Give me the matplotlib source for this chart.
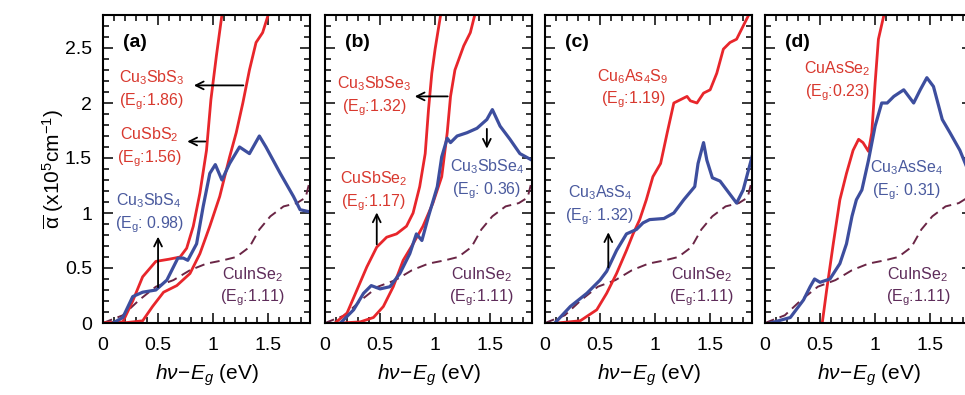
import matplotlib
matplotlib.use("Agg")
import matplotlib.pyplot as plt
from matplotlib.ticker import MultipleLocator, FormatStrFormatter

plt.rcParams['font.family'] = ['Liberation Sans', 'DejaVu Sans']
plt.rcParams['mathtext.fontset'] = 'custom'
plt.rcParams['mathtext.rm'] = 'Liberation Sans'
plt.rcParams['mathtext.it'] = 'Liberation Sans:italic'
plt.rcParams['mathtext.default'] = 'regular'

RED = '#e8262b'
BLUE = '#3d4e9e'
DASH = '#6a2545'
RED_TXT = '#d8382e'
BLUE_TXT = '#4a5a9e'
PURP_TXT = '#5e2c5a'

# reference CuInSe2 (dashed, same in every panel)
cis_x = [0, 0.18, 0.33, 0.48, 0.64, 0.79, 0.94, 1.09, 1.21, 1.33, 1.42, 1.52, 1.64, 1.76, 1.84, 1.88]
cis_y = [0, 0.07, 0.21, 0.33, 0.39, 0.48, 0.54, 0.57, 0.60, 0.69, 0.85, 0.97, 1.06, 1.09, 1.14, 1.30]

# (a)
a_s3_x = [0, 0.18, 0.36, 0.45, 0.55, 0.67, 0.79, 0.88, 0.97, 1.06, 1.15, 1.21, 1.27, 1.33, 1.39, 1.45, 1.50]
a_s3_y = [0, 0.0, 0.02, 0.15, 0.28, 0.34, 0.45, 0.63, 0.88, 1.15, 1.51, 1.73, 2.00, 2.30, 2.55, 2.64, 2.80]
a_s2_x = [0, 0.18, 0.27, 0.36, 0.48, 0.60, 0.70, 0.76, 0.82, 0.88, 0.94, 0.98, 1.03, 1.08]
a_s2_y = [0, 0.01, 0.20, 0.42, 0.56, 0.58, 0.60, 0.68, 0.88, 1.18, 1.57, 2.03, 2.43, 2.80]
a_s4_x = [0.09, 0.18, 0.27, 0.36, 0.48, 0.58, 0.68, 0.73, 0.77, 0.85, 0.91, 0.97, 1.02, 1.08,
          1.15, 1.24, 1.33, 1.42, 1.48, 1.61, 1.73, 1.79, 1.88]
a_s4_y = [0, 0.05, 0.24, 0.28, 0.30, 0.39, 0.59, 0.59, 0.57, 0.72, 1.06, 1.36, 1.44, 1.30,
          1.45, 1.60, 1.54, 1.70, 1.60, 1.36, 1.15, 1.03, 1.01]

# (b)
b_se3_x = [0.14, 0.32, 0.44, 0.53, 0.62, 0.71, 0.80, 0.89, 0.98, 1.06, 1.11, 1.14, 1.18, 1.26, 1.32, 1.36]
b_se3_y = [0, 0.01, 0.05, 0.15, 0.33, 0.57, 0.72, 0.88, 1.09, 1.33, 1.73, 2.06, 2.30, 2.52, 2.64, 2.80]
b_se2_x = [0.09, 0.20, 0.29, 0.38, 0.47, 0.56, 0.65, 0.74, 0.80, 0.86, 0.91, 0.94, 0.97, 1.00, 1.05]
b_se2_y = [0, 0.09, 0.30, 0.51, 0.69, 0.78, 0.81, 0.88, 1.00, 1.24, 1.54, 1.94, 2.27, 2.49, 2.80]
b_se4_x = [0.14, 0.26, 0.35, 0.42, 0.50, 0.59, 0.68, 0.77, 0.83, 0.88, 0.94, 1.02, 1.06, 1.11,
           1.14, 1.20, 1.29, 1.38, 1.47, 1.52, 1.59, 1.68, 1.77, 1.88]
b_se4_y = [0, 0.12, 0.27, 0.34, 0.31, 0.33, 0.45, 0.63, 0.81, 0.75, 0.97, 1.24, 1.51, 1.68,
           1.64, 1.70, 1.73, 1.77, 1.85, 1.94, 1.79, 1.67, 1.54, 1.48]

# (c)
c_s9_x = [0.11, 0.32, 0.47, 0.56, 0.65, 0.74, 0.80, 0.86, 0.92, 0.98, 1.05, 1.11, 1.17, 1.23,
          1.29, 1.32, 1.38, 1.44, 1.50, 1.56, 1.62, 1.68, 1.74, 1.80, 1.86]
c_s9_y = [0, 0.02, 0.12, 0.27, 0.45, 0.66, 0.81, 0.94, 1.12, 1.33, 1.45, 1.73, 2.00, 2.03,
          2.06, 2.02, 2.00, 2.09, 2.12, 2.27, 2.49, 2.55, 2.58, 2.70, 2.82]
c_s4_x = [0.09, 0.23, 0.38, 0.50, 0.56, 0.65, 0.74, 0.83, 0.89, 0.95, 1.08, 1.17, 1.26, 1.36,
          1.39, 1.44, 1.47, 1.52, 1.59, 1.65, 1.74, 1.80, 1.88]
c_s4_y = [0, 0.15, 0.27, 0.39, 0.47, 0.66, 0.81, 0.85, 0.91, 0.94, 0.95, 1.00, 1.12, 1.24,
          1.45, 1.64, 1.48, 1.32, 1.29, 1.21, 1.09, 1.21, 1.51]

# (d)
d_se2_x = [0.52, 0.56, 0.62, 0.68, 0.74, 0.80, 0.85, 0.89, 0.94, 0.97, 1.00, 1.03, 1.08]
d_se2_y = [0, 0.30, 0.72, 1.12, 1.36, 1.57, 1.67, 1.64, 1.56, 1.73, 2.18, 2.58, 2.80]
d_se4_x = [0.05, 0.23, 0.35, 0.41, 0.45, 0.50, 0.59, 0.68, 0.74, 0.79, 0.83, 0.88, 0.94, 1.00,
           1.06, 1.11, 1.17, 1.26, 1.35, 1.41, 1.47, 1.53, 1.61, 1.68, 1.77, 1.88]
d_se4_y = [0, 0.05, 0.21, 0.33, 0.40, 0.37, 0.40, 0.54, 0.72, 0.97, 1.12, 1.21, 1.48, 1.79,
           2.00, 2.00, 2.06, 2.12, 2.00, 2.12, 2.23, 2.15, 1.85, 1.73, 1.57, 1.30]

panels = [
    ('(a)', [(a_s2_x, a_s2_y, RED), (a_s3_x, a_s3_y, RED), (a_s4_x, a_s4_y, BLUE)],
     [('Cu$_3$SbS$_3$\n(E$_g$:1.86)', 0.44, 2.12, RED_TXT),
      ('CuSbS$_2$\n(E$_g$:1.56)', 0.42, 1.60, RED_TXT),
      ('Cu$_3$SbS$_4$\n(E$_g$: 0.98)', 0.42, 1.00, BLUE_TXT)],
     [((1.30, 2.16), (0.80, 2.16)), ((0.955, 1.65), (0.74, 1.65)), ((0.50, 0.30), (0.50, 0.81))]),
    ('(b)', [(b_se2_x, b_se2_y, RED), (b_se3_x, b_se3_y, RED), (b_se4_x, b_se4_y, BLUE)],
     [('Cu$_3$SbSe$_3$\n(E$_g$:1.32)', 0.445, 2.06, RED_TXT),
      ('CuSbSe$_2$\n(E$_g$:1.17)', 0.44, 1.20, RED_TXT),
      ('Cu$_3$SbSe$_4$\n(E$_g$: 0.36)', 1.47, 1.31, BLUE_TXT)],
     [((1.14, 2.06), (0.79, 2.06)), ((0.47, 0.69), (0.47, 1.03)), ((1.47, 1.79), (1.47, 1.56))]),
    ('(c)', [(c_s9_x, c_s9_y, RED), (c_s4_x, c_s4_y, BLUE)],
     [('Cu$_6$As$_4$S$_9$\n(E$_g$:1.19)', 0.80, 2.13, RED_TXT),
      ('Cu$_3$AsS$_4$\n(E$_g$: 1.32)', 0.50, 1.07, BLUE_TXT)],
     [((0.575, 0.48), (0.575, 0.85))]),
    ('(d)', [(d_se2_x, d_se2_y, RED), (d_se4_x, d_se4_y, BLUE)],
     [('CuAsSe$_2$\n(E$_g$:0.23)', 0.66, 2.20, RED_TXT),
      ('Cu$_3$AsSe$_4$\n(E$_g$: 0.31)', 1.29, 1.30, BLUE_TXT)],
     []),
]
cis_label_x = [1.355, 1.42, 1.42, 1.39]

fig = plt.figure(figsize=(9.65, 3.95), dpi=100)
lefts = [103, 325, 545, 765]
for i, (tag, curves, labels, arrows) in enumerate(panels):
    ax = fig.add_axes([lefts[i] / 965, 1 - 323 / 395, 207 / 965, 308 / 395])
    ax.plot(cis_x, cis_y, color=DASH, lw=1.4, ls=(0, (5, 3)))
    for xs, ys, c in curves:
        ax.plot(xs, ys, color=c, lw=2.3 if c == BLUE else 2.0)
    for txt, x, y, c in labels:
        ax.text(x, y, txt, color=c, fontsize=11.5, ha='center', va='center',
                multialignment='center', linespacing=1.3)
    ax.text(cis_label_x[i], 0.33, 'CuInSe$_2$\n(E$_g$:1.11)', color=PURP_TXT, fontsize=11.5,
            ha='center', va='center', multialignment='center', linespacing=1.3)
    for (x0, y0), (x1, y1) in arrows:
        ax.annotate('', xy=(x1, y1), xytext=(x0, y0),
                    arrowprops=dict(arrowstyle='->', color='black', lw=1.3, mutation_scale=14))
    ax.text(0.18, 2.55, tag, fontsize=14, fontweight='bold', ha='left', va='center')

    ax.set_xlim(0, 1.88)
    ax.set_ylim(0, 2.8)
    ax.xaxis.set_major_locator(MultipleLocator(0.5))
    ax.xaxis.set_minor_locator(MultipleLocator(0.1))
    ax.yaxis.set_major_locator(MultipleLocator(0.5))
    ax.yaxis.set_minor_locator(MultipleLocator(0.1))
    ax.xaxis.set_major_formatter(FormatStrFormatter('%g'))
    ax.yaxis.set_major_formatter(FormatStrFormatter('%g'))
    ax.tick_params(which='both', direction='in', top=True, right=True, width=1.1)
    ax.tick_params(which='major', length=7, labelsize=14)
    ax.tick_params(which='minor', length=4)
    ax.tick_params(axis='x', pad=10)
    ax.tick_params(axis='y', pad=8)
    for s in ax.spines.values():
        s.set_linewidth(1.5)
    if i > 0:
        ax.set_yticklabels([])
    else:
        ax.set_ylabel(r'$\overline{\alpha}$ (x10$^5$cm$^{-1}$)', fontsize=15, labelpad=-1)
    ax.set_xlabel(r'$\mathit{h\nu\!-\!E_g}$ (eV)', fontsize=15, labelpad=6)

fig.savefig('out.png', dpi=100)
